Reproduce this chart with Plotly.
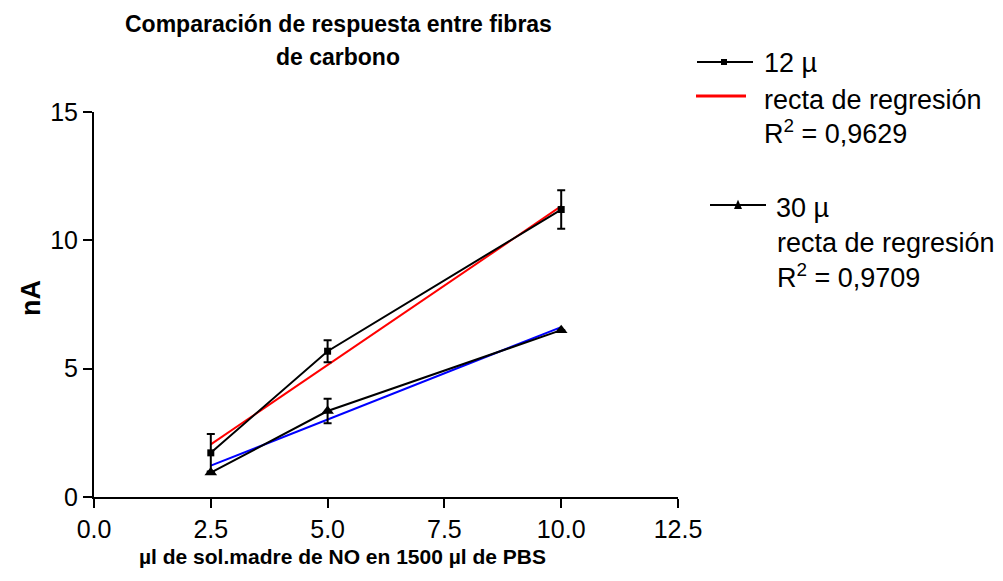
import plotly.graph_objects as go

# ---- data ----
x_vals = [2.5, 5.0, 10.0]
y_12 = [1.72, 5.68, 11.2]
err_12 = [0.73, 0.43, 0.75]
y_30 = [0.95, 3.35, 6.5]
err_30 = [0.0, 0.48, 0.0]
fit_x = [2.5, 10.0]
fit_12 = [2.05, 11.33]
fit_30 = [1.22, 6.62]
x_ticks = [0.0, 2.5, 5.0, 7.5, 10.0, 12.5]
y_ticks = [0, 5, 10, 15]
r2_12 = "0,9629"
r2_30 = "0,9709"

W, H = 1003, 581
L, R, T, B = 94, 325, 112, 84
PW, PH = W - L - R, H - T - B


def px(x):
    return (x - L) / PW


def py(y):
    return (H - B - y) / PH


FONT = "Liberation Sans, Arial, sans-serif"

fig = go.Figure()

fig.add_trace(go.Scatter(x=fit_x, y=fit_12, mode="lines",
                         line=dict(color="#ff0000", width=2), showlegend=False))
fig.add_trace(go.Scatter(x=fit_x, y=fit_30, mode="lines",
                         line=dict(color="#0000ff", width=2), showlegend=False))
fig.add_trace(go.Scatter(x=x_vals, y=y_12, mode="lines+markers",
                         line=dict(color="black", width=2),
                         marker=dict(symbol="square", size=7, color="black"),
                         error_y=dict(type="data", array=err_12, color="black",
                                      thickness=2, width=4),
                         showlegend=False))
fig.add_trace(go.Scatter(x=x_vals, y=y_30, mode="lines+markers",
                         line=dict(color="black", width=2),
                         marker=dict(symbol="triangle-up", size=11, color="black"),
                         error_y=dict(type="data", array=err_30, color="black",
                                      thickness=2, width=4),
                         showlegend=False))

axis_common = dict(showline=True, linecolor="black", linewidth=2, ticks="outside",
                   ticklen=9, tickwidth=2, tickcolor="black", showgrid=False,
                   zeroline=False, tickfont=dict(family=FONT, size=25, color="black"))
fig.update_xaxes(range=[0, 12.5], tickvals=x_ticks, tickformat=".1f", **axis_common)
fig.update_yaxes(range=[0, 15], tickvals=y_ticks, **axis_common)

ann = []
# title (two lines)
for txt, yc in [("<b>Comparación de respuesta entre fibras</b>", 24),
                ("<b>de carbono</b>", 57)]:
    ann.append(dict(text=txt, x=px(338), y=py(yc), xref="paper", yref="paper",
                    showarrow=False, xanchor="center", yanchor="middle",
                    font=dict(family=FONT, size=23, color="black")))
# axis titles
ann.append(dict(text="<b>µl de sol.madre de NO en 1500 µl de PBS</b>",
                x=px(342), y=py(556), xref="paper", yref="paper", showarrow=False,
                xanchor="center", yanchor="middle",
                font=dict(family=FONT, size=21, color="black")))
ann.append(dict(text="<b>nA</b>", textangle=-90,
                x=px(31), y=py(298), xref="paper", yref="paper", showarrow=False,
                xanchor="center", yanchor="middle",
                font=dict(family=FONT, size=27, color="black")))
# legend text
leg_font = dict(family=FONT, size=27, color="black")
for txt, x0, y0 in [("12 µ", 762, 63), ("recta de regresión", 762, 100),
                    ("R<sup>2</sup> = " + r2_12, 762, 132),
                    ("30 µ", 774, 208), ("recta de regresión", 775, 243),
                    ("R<sup>2</sup> = " + r2_30, 775, 276)]:
    ann.append(dict(text=txt, x=px(x0), y=py(y0), xref="paper", yref="paper",
                    showarrow=False, xanchor="left", yanchor="middle", font=leg_font))
fig.update_layout(annotations=ann)

shapes = []
# legend samples
shapes.append(dict(type="line", xref="paper", yref="paper", x0=px(697), x1=px(753),
                   y0=py(62), y1=py(62), line=dict(color="black", width=2)))
shapes.append(dict(type="rect", xref="paper", yref="paper", x0=px(721), x1=px(727),
                   y0=py(59), y1=py(65), line=dict(width=0), fillcolor="black"))
shapes.append(dict(type="line", xref="paper", yref="paper", x0=px(696), x1=px(746),
                   y0=py(96), y1=py(96), line=dict(color="#ff0000", width=3)))
shapes.append(dict(type="line", xref="paper", yref="paper", x0=px(710), x1=px(766),
                   y0=py(205), y1=py(205), line=dict(color="black", width=2)))
tx, ty = px(738), py(205)
dx, dy = 4 / PW, 4 / PH
shapes.append(dict(type="path", xref="paper", yref="paper",
                   path=f"M {tx-dx} {ty-dy} L {tx+dx} {ty-dy} L {tx} {ty+dy*1.3} Z",
                   line=dict(width=0), fillcolor="black"))
fig.update_layout(shapes=shapes)

fig.update_layout(width=W, height=H, margin=dict(l=L, r=R, t=T, b=B, autoexpand=False),
                  plot_bgcolor="white", paper_bgcolor="white", showlegend=False)

fig.write_html("out.html")
